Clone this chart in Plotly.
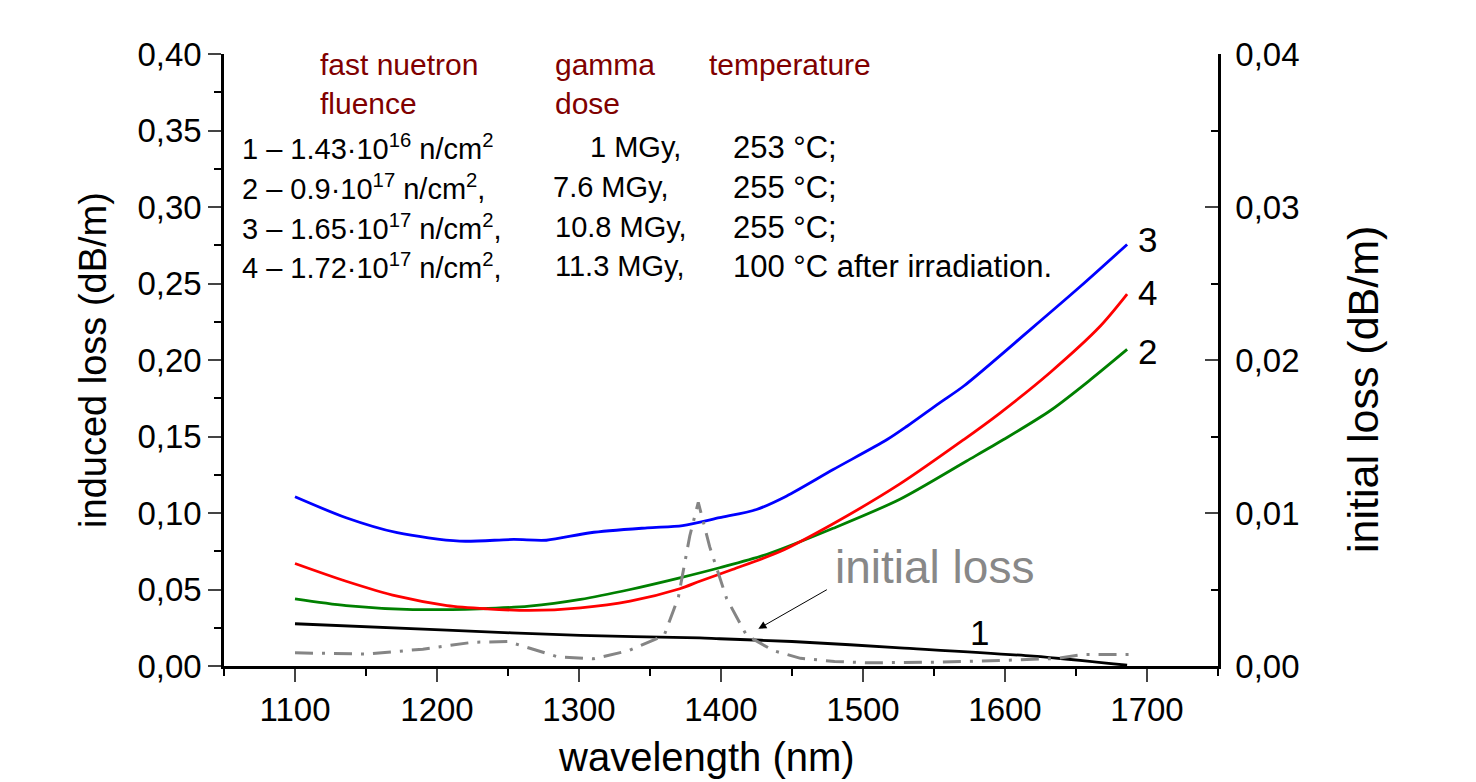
import plotly.graph_objects as go

# ---- data ----
wl_blue = [1100, 1136, 1172, 1216, 1254, 1277, 1308, 1348, 1373, 1399, 1425, 1446, 1479, 1517, 1531, 1554, 1571, 1618, 1653, 1686]
loss_3 = [0.1106, 0.0969, 0.0871, 0.0816, 0.0827, 0.0822, 0.0871, 0.0903, 0.0918, 0.0969, 0.1023, 0.1110, 0.1284, 0.1480, 0.1567, 0.1720, 0.1830, 0.2200, 0.2480, 0.2755]

wl_red = [1100, 1136, 1172, 1207, 1235, 1265, 1301, 1336, 1371, 1385, 1408, 1442, 1479, 1526, 1571, 1596, 1632, 1667, 1686]
loss_4 = [0.0670, 0.0554, 0.0456, 0.0395, 0.0374, 0.0363, 0.0380, 0.0424, 0.0505, 0.0554, 0.0631, 0.0750, 0.0930, 0.1190, 0.1480, 0.1650, 0.1920, 0.2220, 0.2430]

wl_green = [1100, 1136, 1183, 1230, 1265, 1301, 1336, 1371, 1399, 1432, 1479, 1526, 1573, 1599, 1632, 1660, 1686]
loss_2 = [0.0439, 0.0395, 0.0369, 0.0374, 0.0391, 0.0435, 0.0500, 0.0576, 0.0642, 0.0729, 0.0900, 0.1090, 0.1340, 0.1480, 0.1670, 0.1870, 0.2069]

wl_black = [1100, 1207, 1301, 1385, 1399, 1450, 1526, 1620, 1686]
loss_1 = [0.0276, 0.0234, 0.0200, 0.0184, 0.0178, 0.0160, 0.0119, 0.0064, 0.0005]

wl_init = [1100, 1150, 1190, 1225, 1250, 1265, 1285, 1310, 1335, 1360, 1370, 1378, 1384, 1392, 1404, 1418, 1437, 1456, 1480, 1503, 1550, 1596, 1636, 1655, 1690]
loss_init = [0.00086, 0.00078, 0.00110, 0.00155, 0.00160, 0.00115, 0.00060, 0.00047, 0.00100, 0.00200, 0.00450, 0.00850, 0.01070, 0.00780, 0.00440, 0.00200, 0.00100, 0.00050, 0.00030, 0.00021, 0.00025, 0.00036, 0.00049, 0.00075, 0.00075]

x_ticks = [1100, 1200, 1300, 1400, 1500, 1600, 1700]
rows_col1 = ["1 – 1.43·10<sup>16</sup> n/cm<sup>2</sup>",
             "2 – 0.9·10<sup>17</sup> n/cm<sup>2</sup>,",
             "3 – 1.65·10<sup>17</sup> n/cm<sup>2</sup>,",
             "4 – 1.72·10<sup>17</sup> n/cm<sup>2</sup>,"]
rows_col2 = ["1 MGy,", "7.6 MGy,", "10.8 MGy,", "11.3 MGy,"]
rows_col3 = ["253 °C;", "255 °C;", "255 °C;", "100 °C after irradiation."]
header = [("fast nuetron<br>fluence", 318), ("gamma<br>dose", 553), ("temperature", 707)]

FONT = "Liberation Sans, Arial, sans-serif"

# plot-area geometry in pixels (used only to place free text)
L, R, T, B = 224, 258, 54, 116
PW, PH = 1476 - L - R, 782 - T - B


def px_paper(px, py):
    return (px - L) / PW, (782 - B - py) / PH


def text_at(t, px, py, size, color="black", xanchor="left", yanchor="middle", angle=0):
    xp, yp = px_paper(px, py)
    return dict(x=xp, y=yp, xref="paper", yref="paper", text=t, showarrow=False,
                xanchor=xanchor, yanchor=yanchor, textangle=angle, align="left",
                font=dict(family=FONT, size=size, color=color))


fig = go.Figure()
fig.add_trace(go.Scatter(x=wl_init, y=loss_init, mode="lines", yaxis="y2",
                         line=dict(color="#858585", width=3, dash="18px,9px,3px,9px"),
                         showlegend=False))
fig.add_trace(go.Scatter(x=wl_black, y=loss_1, mode="lines",
                         line=dict(color="black", width=2.8, shape="spline", smoothing=0.8), showlegend=False))
fig.add_trace(go.Scatter(x=wl_green, y=loss_2, mode="lines",
                         line=dict(color="#008000", width=2.8, shape="spline", smoothing=0.8), showlegend=False))
fig.add_trace(go.Scatter(x=wl_red, y=loss_4, mode="lines",
                         line=dict(color="#FF0000", width=2.8, shape="spline", smoothing=0.8), showlegend=False))
fig.add_trace(go.Scatter(x=wl_blue, y=loss_3, mode="lines",
                         line=dict(color="#0000FF", width=2.8, shape="spline", smoothing=0.8), showlegend=False))

ann = []
for t, px in header:
    ann.append(text_at(t, px, 46, 30, color="#800000", yanchor="top"))

row_py = [147, 187, 227, 266]
col2_px = [588, 551, 553, 553]
for i in range(4):
    ann.append(text_at(rows_col1[i], 240, row_py[i], 29))
    ann.append(text_at(rows_col2[i], col2_px[i], row_py[i], 29))
    ann.append(text_at(rows_col3[i], 731, row_py[i], 31))

# curve labels
for t, x, y in [("3", 1700, 0.279), ("4", 1700, 0.244), ("2", 1700, 0.2056), ("1", 1581.7, 0.0219)]:
    ann.append(dict(x=x, y=y, xref="x", yref="y", text=t, showarrow=False,
                    xanchor="center", yanchor="middle", font=dict(family=FONT, size=35, color="black")))
# initial loss label + arrow
ann.append(dict(x=1550.7, y=0.065, xref="x", yref="y", text="initial loss", showarrow=False,
                xanchor="center", yanchor="middle", font=dict(family=FONT, size=46, color="#888888")))
ann.append(dict(x=1426.3, y=0.0243, xref="x", yref="y", text="", showarrow=True,
                ax=70, ay=-40, arrowhead=2, arrowsize=1.6, arrowwidth=1, arrowcolor="black"))
# axis titles
ann.append(text_at("initial loss (dB/m)", 1363, 390, 43, xanchor="center", angle=-90))
ann.append(text_at("wavelength (nm)", 706, 757, 40, xanchor="center"))

fig.update_layout(
    width=1476, height=782,
    margin=dict(l=L, r=R, t=T, b=B),
    paper_bgcolor="white", plot_bgcolor="white",
    separators=", ",
    font=dict(family=FONT, color="black"),
    xaxis=dict(range=[1050, 1750], tickvals=x_ticks, ticks="outside", ticklen=13, tickwidth=2,
               showline=True, linecolor="black", linewidth=2.5, showgrid=False, zeroline=False,
               automargin=False,
               minor=dict(dtick=50, tick0=1050, ticks="outside", ticklen=7, tickwidth=2, tickcolor="black"),
               tickfont=dict(size=33, family=FONT)),
    yaxis=dict(range=[0, 0.40], dtick=0.05, tickformat=".2f", ticks="outside", ticklen=13, tickwidth=2,
               showline=True, linecolor="black", linewidth=2.5, showgrid=False, zeroline=False,
               automargin=False,
               minor=dict(dtick=0.025, ticks="outside", ticklen=7, tickwidth=2, tickcolor="black"),
               tickfont=dict(size=33, family=FONT),
               title=dict(text="induced loss (dB/m)", font=dict(size=38, family=FONT), standoff=20)),
    yaxis2=dict(range=[0, 0.04], dtick=0.01, tickformat=".2f", overlaying="y", side="right",
                ticks="inside", ticklen=13, tickwidth=2, ticklabelstandoff=8, automargin=False,
                showline=True, linecolor="black", linewidth=2.5, showgrid=False, zeroline=False,
                minor=dict(dtick=0.005, ticks="inside", ticklen=7, tickwidth=2, tickcolor="black"),
                tickfont=dict(size=33, family=FONT)),
    showlegend=False,
    annotations=ann,
)

fig.write_html("out.html")
